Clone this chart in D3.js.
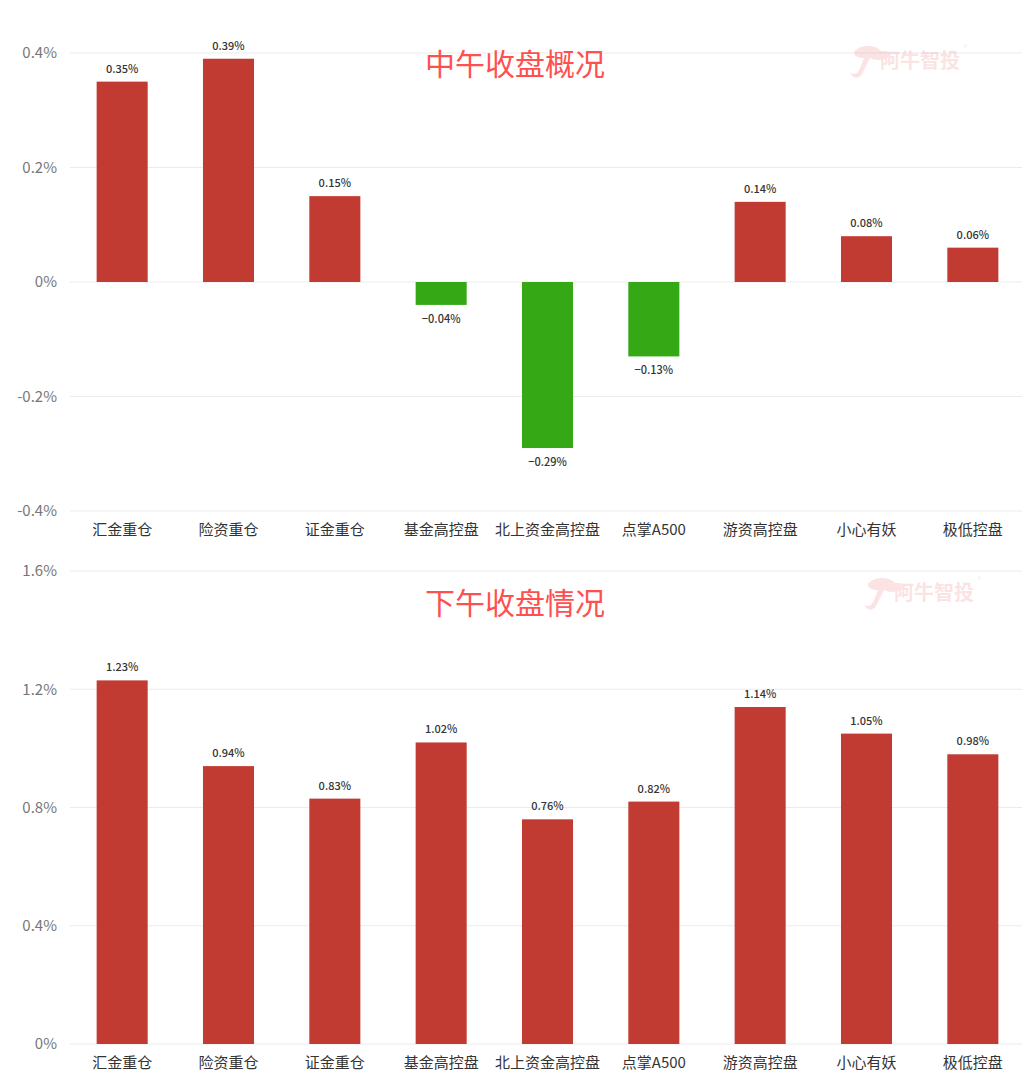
<!DOCTYPE html>
<html><head><meta charset="utf-8">
<script src="https://cdn.jsdelivr.net/npm/d3@7"></script>
<style>body{margin:0;background:#fff;}svg{display:block;font-family:"Noto Sans CJK SC","Noto Sans",sans-serif;}</style>
</head><body>
<svg id="c" width="1036" height="1082"></svg>
<script>
const categories = ["汇金重仓","险资重仓","证金重仓","基金高控盘","北上资金高控盘","点掌A500","游资高控盘","小心有妖","极低控盘"];
const noonValues = [0.35, 0.39, 0.15, -0.04, -0.29, -0.13, 0.14, 0.08, 0.06];
const closeValues = [1.23, 0.94, 0.83, 1.02, 0.76, 0.82, 1.14, 1.05, 0.98];
const noonTicks = [-0.4, -0.2, 0, 0.2, 0.4];
const closeTicks = [0, 0.4, 0.8, 1.2, 1.6];
const titles = ["中午收盘概况", "下午收盘情况"];

const svg = d3.select("#c");
const RED = "#c23b33", GREEN = "#34a815";

function panel(cfg) {
  const g = svg.append("g");
  const x = d3.scaleBand().domain(categories).range([69, 1026]).paddingInner(0.52).paddingOuter(0.26);
  const y = d3.scaleLinear().domain(cfg.domain).range([cfg.bottom, cfg.top]);
  g.selectAll("line.grid").data(cfg.ticks).join("line")
    .attr("x1", 70).attr("x2", 1022)
    .attr("y1", d => y(d)).attr("y2", d => y(d))
    .attr("stroke", "#ebebeb").attr("stroke-width", 1);
  const fmt = d => (d === 0 ? "0" : (d < 0 ? "-" : "") + Math.abs(d).toFixed(1)) + "%";
  g.selectAll("text.yl").data(cfg.ticks).join("text")
    .attr("x", 57).attr("y", d => y(d)).attr("dy", "0.35em")
    .attr("text-anchor", "end").attr("font-size", 15).attr("fill", "#777")
    .text(fmt);
  // watermark
  const wm = g.append("g").attr("transform", `translate(${cfg.wmX},${cfg.wmY})`).attr("opacity", 0.16);
  wm.append("path").attr("d", "M0,-8 C6,-16 22,-16 28,-8 C32,-4 38,-6 40,-10 C36,0 24,2 16,-2 L8,14 C4,20 -2,18 -4,12 C0,16 4,14 6,8 L10,-2 C4,-2 0,-4 0,-8 Z").attr("fill", "#e8585f");
  wm.append("text").attr("x", 26).attr("y", 8).attr("font-size", 20).attr("font-weight", "bold").attr("fill", "#e8585f").text("阿牛智投");
  wm.append("text").attr("x", 110).attr("y", -10).attr("font-size", 7).attr("fill", "#e8585f").text("®");
  g.append("text").attr("x", 515).attr("y", cfg.titleY).attr("text-anchor", "middle")
    .attr("font-size", 30).attr("fill", "#ff5050").text(cfg.title);
  g.selectAll("rect").data(cfg.values).join("rect")
    .attr("x", (d, i) => x(categories[i]))
    .attr("width", x.bandwidth())
    .attr("y", d => y(Math.max(0, d)))
    .attr("height", d => Math.abs(y(d) - y(0)))
    .attr("fill", d => d >= 0 ? RED : GREEN);
  g.selectAll("text.vl").data(cfg.values).join("text")
    .attr("x", (d, i) => x(categories[i]) + x.bandwidth() / 2)
    .attr("y", d => d >= 0 ? y(d) - 9 : y(d) + 18)
    .attr("text-anchor", "middle").attr("font-size", 11).attr("font-weight", 500).attr("fill", "#333")
    .text(d => (d < 0 ? "−" + Math.abs(d).toFixed(2) : d.toFixed(2)) + "%");
  g.selectAll("text.cl").data(categories).join("text")
    .attr("x", d => x(d) + x.bandwidth() / 2).attr("y", cfg.catY)
    .attr("text-anchor", "middle").attr("font-size", 15).attr("fill", "#333")
    .text(d => d);
}

panel({domain: [-0.4, 0.4], top: 53, bottom: 511, ticks: noonTicks, values: noonValues, title: titles[0], titleY: 75, catY: 535, wmX: 854, wmY: 60});
panel({domain: [0, 1.6], top: 571, bottom: 1044, ticks: closeTicks, values: closeValues, title: titles[1], titleY: 614, catY: 1068, wmX: 868, wmY: 592});
</script>
</body></html>
